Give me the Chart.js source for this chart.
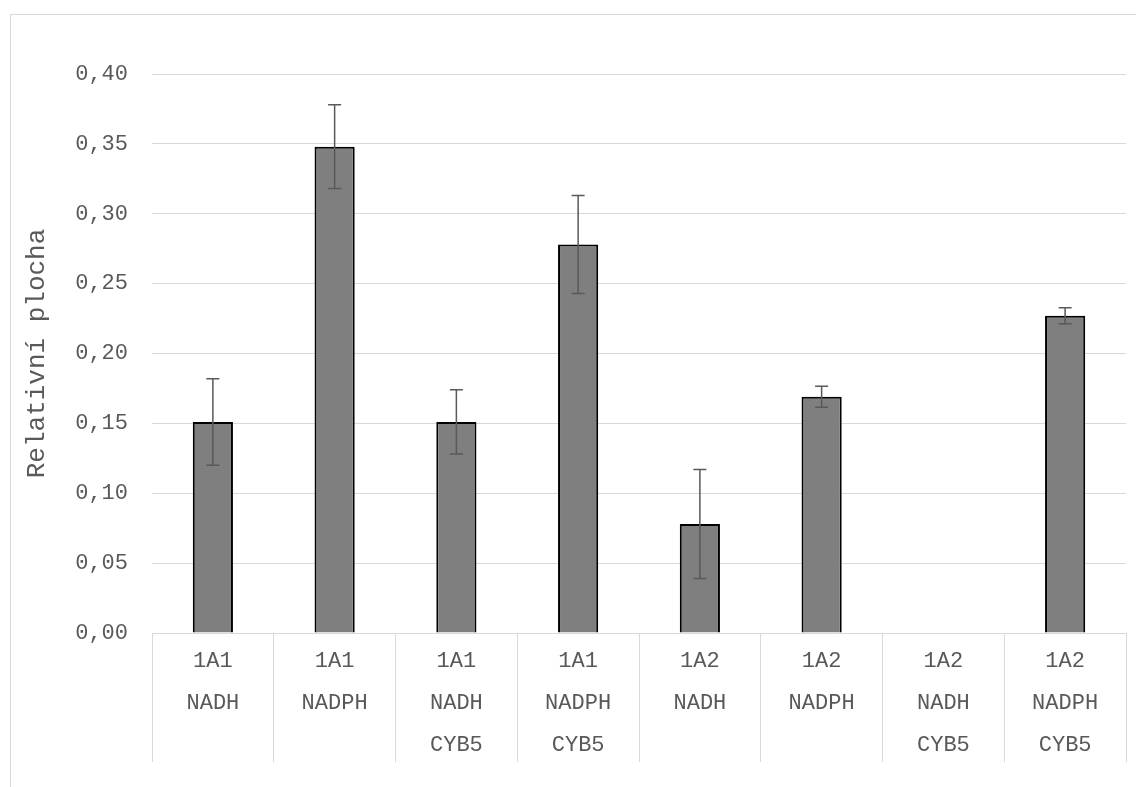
<!DOCTYPE html>
<html>
<head>
<meta charset="utf-8">
<script src="https://cdn.jsdelivr.net/npm/chart.js@4"></script>
<style>
  html, body { margin: 0; padding: 0; background: #fff; }
  #wrap { position: relative; width: 1136px; height: 787px; overflow: hidden; }
  #frame { position: absolute; left: 10px; top: 14px; width: 1200px; height: 900px; border: 1px solid #d9d9d9; }
  canvas { position: absolute; left: 0; top: 0; }
</style>
</head>
<body>
<div id="wrap">
  <div id="frame"></div>
  <canvas id="myChart" width="1136" height="787"></canvas>
</div>
<script>
const labels = [
  ['1A1', 'NADH'],
  ['1A1', 'NADPH'],
  ['1A1', 'NADH', 'CYB5'],
  ['1A1', 'NADPH', 'CYB5'],
  ['1A2', 'NADH'],
  ['1A2', 'NADPH'],
  ['1A2', 'NADH', 'CYB5'],
  ['1A2', 'NADPH', 'CYB5'],
];

const values = [0.151, 0.348, 0.151, 0.278, 0.078, 0.169, 0, 0.227];
const errors = [0.031, 0.030, 0.023, 0.035, 0.039, 0.0075, 0, 0.0058];

const textColor = '#595959';
const gridColor = '#d9d9d9';
const font = { family: "'Liberation Mono', 'Courier New', monospace", size: 22 };

// draws the +/- error whiskers on each bar
const errorBars = {
  id: 'errorBars',
  afterDatasetsDraw(chart) {
    const ctx = chart.ctx;
    const yScale = chart.scales.y;
    const meta = chart.getDatasetMeta(0);
    ctx.save();
    ctx.strokeStyle = '#595959';
    ctx.lineWidth = 1.5;
    meta.data.forEach((bar, i) => {
      if (!errors[i]) return;
      const yTop = yScale.getPixelForValue(values[i] + errors[i]);
      const yBot = yScale.getPixelForValue(values[i] - errors[i]);
      const cap = 6.5;
      ctx.beginPath();
      ctx.moveTo(bar.x, yTop);
      ctx.lineTo(bar.x, yBot);
      ctx.moveTo(bar.x - cap, yTop);
      ctx.lineTo(bar.x + cap, yTop);
      ctx.moveTo(bar.x - cap, yBot);
      ctx.lineTo(bar.x + cap, yBot);
      ctx.stroke();
    });
    ctx.restore();
  }
};

const data = {
  labels: labels,
  datasets: [{
    label: 'Relativní plocha',
    data: values,
    backgroundColor: '#7f7f7f',
    borderColor: '#000000',
    borderWidth: 2,
    barPercentage: 0.33,
    categoryPercentage: 1,
  }]
};

const config = {
  type: 'bar',
  data: data,
  options: {
    responsive: false,
    animation: false,
    layout: { padding: { left: 0, top: 74, right: 10, bottom: 0 } },
    plugins: {
      legend: { display: false },
      tooltip: { enabled: false },
    },
    scales: {
      x: {
        grid: {
          display: true,
          drawOnChartArea: false,
          drawTicks: true,
          tickLength: 129,
          color: gridColor,
          lineWidth: 1,
        },
        border: { display: true, color: gridColor, width: 1 },
        ticks: {
          color: textColor,
          font: { ...font, lineHeight: 42 / 22 },
          padding: -122,
          maxRotation: 0,
          autoSkip: false,
        },
        afterFit(scale) { scale.height = 154; },
      },
      y: {
        min: 0,
        max: 0.4,
        grid: { color: gridColor, drawTicks: false, lineWidth: 1 },
        border: { display: false },
        ticks: {
          stepSize: 0.05,
          color: textColor,
          font: font,
          padding: 24,
          callback: (v) => v.toFixed(2).replace('.', ','),
        },
        title: {
          display: true,
          text: 'Relativní plocha',
          color: textColor,
          font: { ...font, size: 26 },
          padding: { top: 22, bottom: 0 },
        },
        afterFit(scale) { scale.width = 152; },
      },
    },
  },
  plugins: [errorBars],
};

if (document.getElementById('myChart')) {
  const myChart = new Chart(
    document.getElementById('myChart').getContext('2d'),
    config
  );
}
</script>
</body>
</html>
